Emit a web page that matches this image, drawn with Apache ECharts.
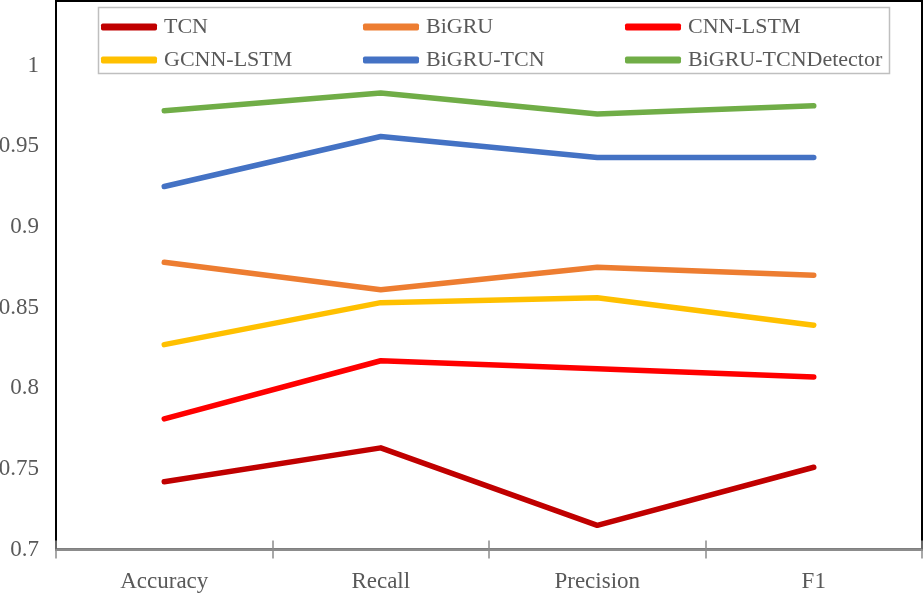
<!DOCTYPE html>
<html>
<head>
<meta charset="utf-8">
<script src="https://cdn.jsdelivr.net/npm/echarts@6/dist/echarts.min.js"></script>
<style>
html,body{margin:0;padding:0;background:#fff;}
#chart{width:924px;height:594px;}
</style>
</head>
<body>
<div id="chart"></div>
<script>
const categories = ['Accuracy', 'Recall', 'Precision', 'F1'];
const seriesNames = ['TCN', 'BiGRU', 'CNN-LSTM', 'GCNN-LSTM', 'BiGRU-TCN', 'BiGRU-TCNDetector'];
const tcn       = [0.742, 0.763, 0.715, 0.751];
const bigru     = [0.878, 0.861, 0.875, 0.870];
const cnnLstm   = [0.781, 0.817, 0.812, 0.807];
const gcnnLstm  = [0.827, 0.853, 0.856, 0.839];
const bigruTcn  = [0.925, 0.956, 0.943, 0.943];
const detector  = [0.972, 0.983, 0.970, 0.975];
const yMin = 0.7, yMax = 1.04, yInterval = 0.05;

const colors = ['#C00000', '#ED7D31', '#FF0000', '#FFC000', '#4472C4', '#70AD47'];
const values = [tcn, bigru, cnnLstm, gcnnLstm, bigruTcn, detector];
const FONT = '"Liberation Serif", "Times New Roman", serif';
const GRAY = '#595959';
const AXIS_GRAY = '#8C8C8C';

const chart = echarts.init(document.getElementById('chart'), null, {renderer: 'canvas'});

function legendAt(left, names) {
  return {
    orient: 'vertical',
    left: left,
    top: 15,
    padding: 0,
    itemGap: 9,
    itemWidth: 56,
    itemHeight: 7,
    icon: 'roundRect',
    data: names,
    textStyle: {fontFamily: FONT, fontSize: 22, color: GRAY, lineHeight: 22, padding: [2, 0, 0, 2]}
  };
}

const option = {
  animation: false,
  backgroundColor: '#fff',
  color: colors,
  grid: {left: 56, right: 2, top: 1, bottom: 44.5, containLabel: false, outerBoundsMode: 'none',
         show: true, borderColor: '#000', borderWidth: 2, backgroundColor: 'transparent'},
  legend: [
    legendAt(101, [seriesNames[0], seriesNames[3]]),
    legendAt(363, [seriesNames[1], seriesNames[4]]),
    legendAt(625, [seriesNames[2], seriesNames[5]])
  ],
  graphic: [{
    type: 'rect',
    shape: {x: 98.5, y: 7.5, width: 791, height: 66},
    style: {fill: 'none', stroke: '#BFBFBF', lineWidth: 1.5},
    z: 0
  }],
  xAxis: [{
    type: 'category',
    data: categories,
    position: 'bottom',
    boundaryGap: true,
    axisLine: {show: true, lineStyle: {color: AXIS_GRAY, width: 2}},
    axisTick: {show: true, length: 9, lineStyle: {color: AXIS_GRAY, width: 1.5}},
    axisLabel: {fontFamily: FONT, fontSize: 23, color: GRAY, margin: 21},
    splitLine: {show: false}
  }, {
    type: 'category',
    data: categories,
    position: 'bottom',
    boundaryGap: true,
    axisLine: {show: false},
    axisTick: {show: true, inside: true, length: 9, lineStyle: {color: AXIS_GRAY, width: 1.5}},
    axisLabel: {show: false},
    splitLine: {show: false}
  }],
  yAxis: {
    type: 'value',
    min: yMin,
    max: yMax,
    interval: yInterval,
    axisLine: {show: false},
    axisTick: {show: false},
    splitLine: {show: false},
    axisLabel: {
      fontFamily: FONT, fontSize: 23, color: GRAY, margin: 17,
      showMaxLabel: false,
      formatter: v => String(+v.toFixed(2))
    }
  },
  series: seriesNames.map((name, i) => ({
    name: name,
    type: 'line',
    data: values[i],
    symbol: 'none',
    lineStyle: {width: 5.5, color: colors[i], cap: 'round', join: 'round'},
    itemStyle: {color: colors[i]},
    z: 3
  }))
};
chart.setOption(option);
</script>
</body>
</html>
